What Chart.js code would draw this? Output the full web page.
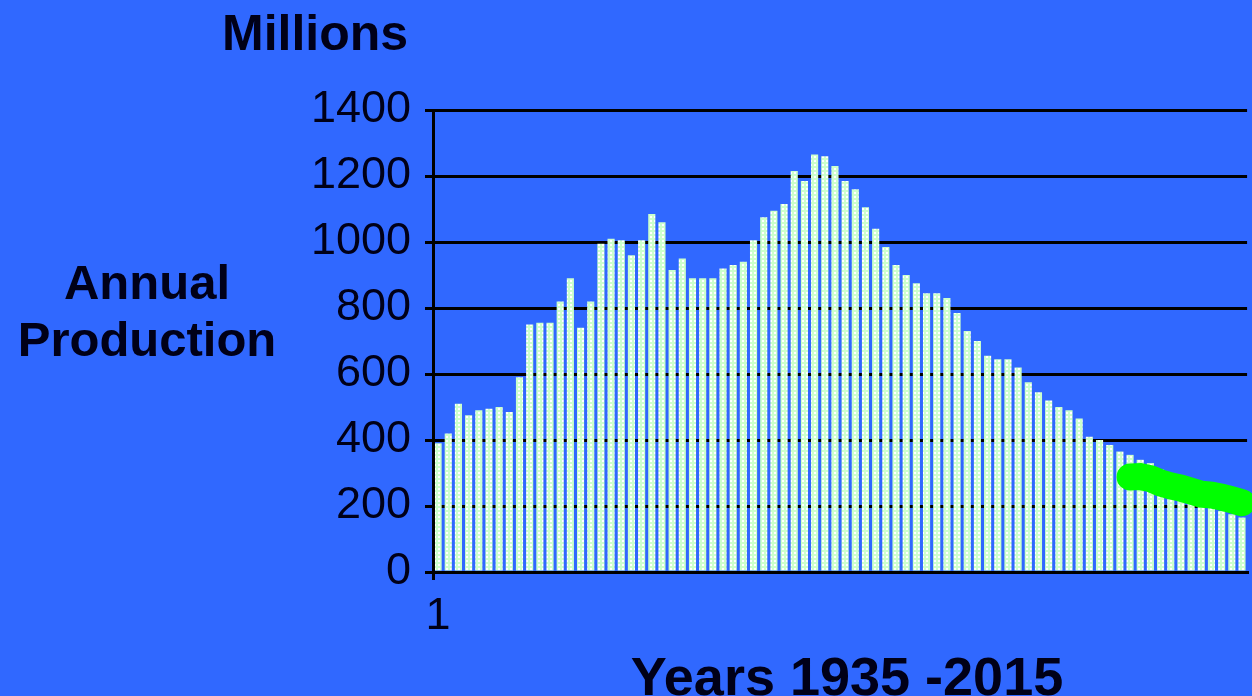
<!DOCTYPE html>
<html>
<head>
<meta charset="utf-8">
<script src="https://cdn.jsdelivr.net/npm/chart.js@4.4.1/dist/chart.umd.min.js"></script>
<style>
  body { margin: 0; background: #3068ff; }
  #wrap { position: relative; width: 1252px; height: 696px; overflow: hidden; background: #3068ff; }
  #grafico { position: absolute; left: 0; top: 0; }
  .lbl { position: absolute; font-family: "Liberation Sans", Arial, sans-serif; font-weight: bold; color: #000018; line-height: 1; white-space: nowrap; }
</style>
</head>
<body>
<div id="wrap">
  <canvas id="grafico" width="1252" height="696"></canvas>
  <div class="lbl" style="left:222px; top:8px; font-size:50px;">Millions</div>
  <div class="lbl" style="left:0; width:294px; text-align:center; top:258px; font-size:49px;">Annual</div>
  <div class="lbl" style="left:0; width:294px; text-align:center; top:315px; font-size:49px;">Production</div>
  <div class="lbl" style="left:620px; width:454px; text-align:center; top:649px; font-size:54px;">Years 1935 -2015</div>
</div>
<script>
// annual production, millions, one bar per year 1935-2014
const produccion = [
  390, 420, 510, 475, 490, 495, 500, 485, 590, 750,
  755, 755, 820, 890, 740, 820, 995, 1010, 1005, 960,
  1005, 1085, 1060, 915, 950, 890, 890, 890, 920, 930,
  940, 1005, 1075, 1095, 1115, 1215, 1185, 1265, 1260, 1230,
  1185, 1160, 1105, 1040, 985, 930, 900, 875, 845, 845,
  830, 785, 730, 700, 655, 645, 645, 620, 575, 545,
  520, 500, 490, 465, 410, 400, 385, 365, 355, 340,
  330, 310, 290, 265, 240, 215, 195, 185, 175, 165
];
// green trend at the end (bars 69-80)
const tendencia = [288, 289, 283, 270, 261, 254, 245, 236, 233, 227, 219, 210];
const yTicks = [0, 200, 400, 600, 800, 1000, 1200, 1400];

const categorias = produccion.map((v, i) => String(i + 1));
const lineaVerde = produccion.map((v, i) => {
  const k = i - (produccion.length - tendencia.length);
  return k >= 0 ? tendencia[k] : null;
});

// dotted light green fill for the bars
function patronBarras() {
  const c = document.createElement('canvas');
  c.width = 4; c.height = 4;
  const g = c.getContext('2d');
  g.fillStyle = '#ccffcc';
  g.fillRect(0, 0, 4, 4);
  g.fillStyle = '#ffffff';
  g.fillRect(2, 0, 2, 2);
  return g.createPattern(c, 'repeat');
}

const ctx = document.getElementById('grafico').getContext('2d');
const tickFont = { family: '"Liberation Sans", Arial, sans-serif', size: 45 };

new Chart(ctx, {
  type: 'bar',
  data: {
    labels: categorias,
    datasets: [
      {
        type: 'line',
        data: lineaVerde,
        borderColor: '#00ff00',
        borderWidth: 27,
        borderCapStyle: 'round',
        pointRadius: 0,
        tension: 0,
        spanGaps: false,
        order: 0
      },
      {
        data: produccion,
        backgroundColor: patronBarras(),
        borderWidth: 0,
        barPercentage: 0.7,
        categoryPercentage: 1.0,
        order: 1
      }
    ]
  },
  options: {
    responsive: false,
    animation: false,
    devicePixelRatio: 1,
    layout: { padding: { top: 110, right: 1, bottom: 0, left: 0 } },
    plugins: { legend: { display: false }, tooltip: { enabled: false } },
    scales: {
      x: {
        afterFit: s => { s.height = 124; },
        ticks: {
          autoSkip: false,
          maxRotation: 0,
          padding: 10,
          color: '#000018',
          font: tickFont,
          callback: (v, i) => (i === 0 ? '1' : '')
        },
        grid: {
          offset: true,
          drawOnChartArea: false,
          tickLength: 8,
          lineWidth: 3,
          color: c => (c.index === 0 ? '#000000' : 'rgba(0,0,0,0)')
        },
        border: { display: true, color: '#000000', width: 3, z: 1 }
      },
      y: {
        min: 0,
        max: 1400,
        afterFit: s => { s.width = 433; },
        afterBuildTicks: s => { s.ticks = yTicks.map(v => ({ value: v })); },
        ticks: { padding: 14, color: '#000018', font: tickFont, callback: v => String(v) },
        grid: { color: '#000000', lineWidth: 3, tickLength: 8 },
        border: { display: true, color: '#000000', width: 3, z: 1 }
      }
    }
  }
});
</script>
</body>
</html>
